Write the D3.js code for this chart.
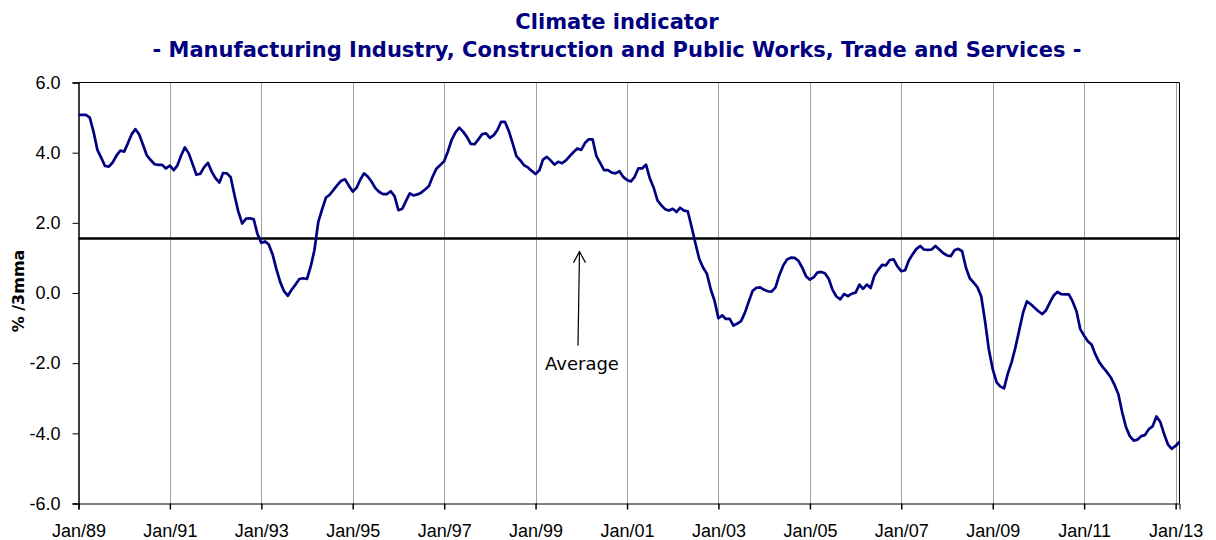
<!DOCTYPE html>
<html>
<head>
<meta charset="utf-8">
<script src="https://cdn.jsdelivr.net/npm/d3@7"></script>
<style>
  body { margin: 0; background: #fff; }
  svg { display: block; font-family: "DejaVu Sans", sans-serif; }
  .grid line { stroke: #a0a0a0; stroke-width: 1; }
  .axis path, .axis line { stroke: #000; }
  .axis text { font-size: 18px; fill: #000; }
</style>
</head>
<body>
<svg id="chart" width="1216" height="540"></svg>
<script>
// monthly climate indicator, % /3mma, from Jan 1989
const startMonth = new Date(1989, 0, 1);
const climate = [
  5.08, 5.08, 5.08, 5.00, 4.60, 4.08, 3.86, 3.62, 3.60, 3.72, 3.92, 4.06, // 1989
  4.03, 4.28, 4.52, 4.67, 4.52, 4.22, 3.92, 3.79, 3.67, 3.65, 3.65, 3.55, // 1990
  3.63, 3.50, 3.63, 3.92, 4.15, 3.98, 3.68, 3.37, 3.40, 3.58, 3.71, 3.46, // 1991
  3.27, 3.15, 3.42, 3.41, 3.30, 2.78, 2.32, 1.98, 2.12, 2.13, 2.10, 1.68, // 1992
  1.43, 1.47, 1.38, 1.10, 0.68, 0.31, 0.05, -0.08, 0.10, 0.24, 0.40, 0.42, // 1993
  0.40, 0.78, 1.22, 2.03, 2.38, 2.72, 2.80, 2.94, 3.08, 3.20, 3.24, 3.06, // 1994
  2.89, 3.00, 3.22, 3.41, 3.32, 3.17, 2.99, 2.88, 2.82, 2.82, 2.90, 2.76, // 1995
  2.36, 2.40, 2.62, 2.84, 2.78, 2.81, 2.86, 2.95, 3.05, 3.32, 3.55, 3.65, // 1996
  3.76, 4.05, 4.36, 4.58, 4.71, 4.60, 4.45, 4.25, 4.24, 4.38, 4.53, 4.55, // 1997
  4.42, 4.50, 4.64, 4.88, 4.88, 4.62, 4.28, 3.90, 3.78, 3.64, 3.58, 3.48, // 1998
  3.39, 3.50, 3.80, 3.88, 3.78, 3.66, 3.74, 3.70, 3.78, 3.90, 4.02, 4.12, // 1999
  4.08, 4.28, 4.38, 4.38, 3.90, 3.70, 3.50, 3.50, 3.43, 3.41, 3.47, 3.31, // 2000
  3.22, 3.18, 3.30, 3.55, 3.55, 3.66, 3.28, 3.01, 2.64, 2.50, 2.39, 2.35, // 2001
  2.40, 2.31, 2.43, 2.35, 2.33, 1.88, 1.42, 0.97, 0.72, 0.55, 0.10, -0.22, // 2002
  -0.72, -0.64, -0.74, -0.74, -0.93, -0.87, -0.80, -0.56, -0.24, 0.06, 0.15, 0.16, // 2003
  0.09, 0.05, 0.04, 0.16, 0.50, 0.78, 0.95, 1.01, 1.00, 0.92, 0.72, 0.48, // 2004
  0.38, 0.45, 0.58, 0.60, 0.56, 0.40, 0.09, -0.10, -0.18, -0.03, -0.09, -0.02, // 2005
  0.01, 0.24, 0.12, 0.24, 0.14, 0.50, 0.66, 0.80, 0.79, 0.94, 0.96, 0.76, // 2006
  0.62, 0.65, 0.92, 1.10, 1.25, 1.34, 1.24, 1.23, 1.24, 1.34, 1.24, 1.14, // 2007
  1.07, 1.05, 1.22, 1.26, 1.19, 0.72, 0.42, 0.30, 0.16, -0.10, -0.82, -1.62, // 2008
  -2.18, -2.55, -2.66, -2.72, -2.30, -1.97, -1.55, -1.05, -0.55, -0.24, -0.32, -0.42, // 2009
  -0.52, -0.60, -0.50, -0.28, -0.08, 0.03, -0.03, -0.04, -0.04, -0.24, -0.52, -1.03, // 2010
  -1.22, -1.38, -1.47, -1.75, -1.97, -2.12, -2.25, -2.40, -2.62, -2.88, -3.40, -3.82, // 2011
  -4.08, -4.21, -4.18, -4.08, -4.05, -3.88, -3.80, -3.52, -3.68, -4.02, -4.32, -4.44, // 2012
  -4.36, -4.24 // 2013
];
const average = 1.55;
const yTicks = [-6, -4, -2, 0, 2, 4, 6];
const xTickYears = [1989, 1991, 1993, 1995, 1997, 1999, 2001, 2003, 2005, 2007, 2009, 2011, 2013];

const titleLines = ["Climate indicator",
  "- Manufacturing Industry, Construction and Public Works, Trade and Services -"];
const yTitle = "% /3mma";
const avgLabel = "Average";

const data = climate.map((v, i) => ({ date: d3.timeMonth.offset(startMonth, i), value: v }));

const svg = d3.select("#chart");
const plotLeft = 78.5, plotRight = 1179.5, plotTop = 82.5, plotBottom = 503.5;

const x = d3.scaleTime()
  .domain(d3.extent(data, d => d.date))
  .range([plotLeft, plotRight]);
const y = d3.scaleLinear()
  .domain([-6, 6])
  .range([plotBottom, plotTop]);

const xTicks = xTickYears.map(yr => new Date(yr, 0, 1));

// vertical grid
svg.append("g").attr("class", "grid")
  .selectAll("line")
  .data(xTicks.slice(1))
  .join("line")
  .attr("x1", d => Math.round(x(d)) + 0.5)
  .attr("x2", d => Math.round(x(d)) + 0.5)
  .attr("y1", plotTop)
  .attr("y2", plotBottom);

// top and right border
svg.append("path")
  .attr("d", `M${plotLeft},${plotTop}H${plotRight}V${plotBottom}`)
  .attr("fill", "none")
  .attr("stroke", "#000")
  .attr("stroke-width", 1);

// axes
svg.append("g").attr("class", "axis")
  .attr("transform", `translate(0,${plotBottom})`)
  .call(d3.axisBottom(x).tickValues(xTicks).tickFormat(d3.timeFormat("%b/%y")).tickSizeOuter(0).tickSize(6).tickPadding(15))
  .call(g => g.selectAll(".tick line").attr("stroke-width", 1.5));

svg.append("g").attr("class", "axis")
  .attr("transform", `translate(${plotLeft},0)`)
  .call(d3.axisLeft(y).tickValues(yTicks).tickFormat(d => d.toFixed(1)).tickSizeOuter(0).tickSize(6).tickPadding(12))
  .call(g => g.select(".domain").attr("stroke-width", 1.5));

// average line
svg.append("line")
  .attr("x1", plotLeft).attr("x2", plotRight)
  .attr("y1", y(average)).attr("y2", y(average))
  .attr("stroke", "#000")
  .attr("stroke-width", 2.5);

// series
svg.append("path")
  .datum(data)
  .attr("fill", "none")
  .attr("stroke", "#000080")
  .attr("stroke-width", 2.7)
  .attr("stroke-linejoin", "round")
  .attr("d", d3.line().x(d => x(d.date)).y(d => y(d.value)));

// average annotation
const ax = 579.5;
svg.append("line")
  .attr("x1", ax - 1.5).attr("y1", y(average) + 107)
  .attr("x2", ax).attr("y2", y(average) + 13)
  .attr("stroke", "#000").attr("stroke-width", 1.2);
svg.append("path")
  .attr("d", `M${ax - 6},${y(average) + 24}L${ax},${y(average) + 13}L${ax + 6},${y(average) + 24}`)
  .attr("fill", "none").attr("stroke", "#000").attr("stroke-width", 1.2);
svg.append("text")
  .attr("x", 582).attr("y", y(average) + 131)
  .attr("text-anchor", "middle")
  .attr("font-size", 18)
  .text(avgLabel);

// titles
svg.append("g")
  .selectAll("text")
  .data(titleLines)
  .join("text")
  .attr("x", 617)
  .attr("y", (d, i) => 29 + i * 28)
  .attr("text-anchor", "middle")
  .attr("font-size", 21)
  .attr("font-weight", "bold")
  .attr("fill", "#000080")
  .text(d => d);

svg.append("text")
  .attr("transform", "translate(24,291) rotate(-90)")
  .attr("text-anchor", "middle")
  .attr("font-size", 16)
  .attr("font-weight", "bold")
  .text(yTitle);
</script>
</body>
</html>
